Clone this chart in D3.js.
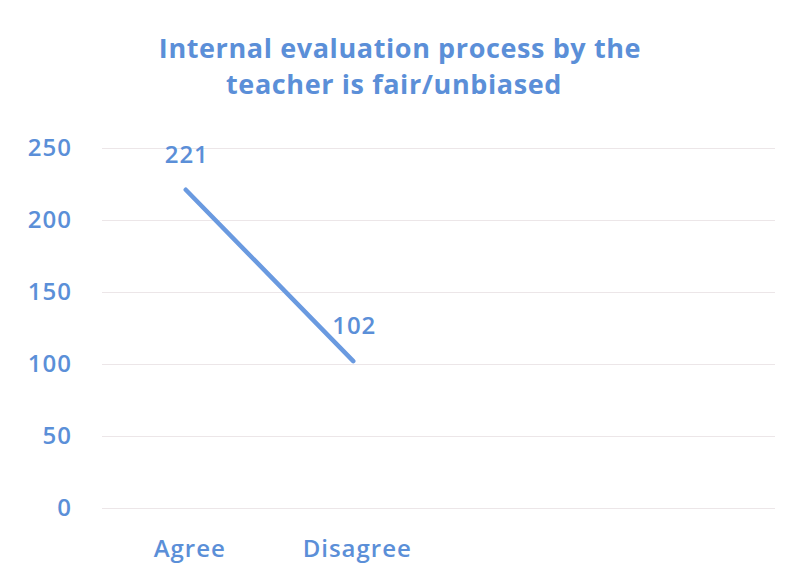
<!DOCTYPE html>
<html>
<head>
<meta charset="utf-8">
<script src="https://cdn.jsdelivr.net/npm/d3@7"></script>
<style>
  html, body { margin: 0; padding: 0; background: #ffffff; }
  svg { display: block; }
</style>
</head>
<body>
<svg id="chart" width="791" height="579"></svg>
<script>
const titleLines = ["Internal evaluation process by the", "teacher is fair/unbiased"];
const categories = ["Agree", "Disagree"];
const slotCount = 4; // chart reserves four category slots, two are used
const values = [221, 102];
const yTicks = [0, 50, 100, 150, 200, 250];

const W = 791, H = 579;
const margin = { left: 102, right: 11, top: 148, bottom: 71 };
const blue = "#5b8fd8";
const font = "'Open Sans', Lato, 'DejaVu Sans', sans-serif";

const svg = d3.select("#chart");
svg.append("rect").attr("width", W).attr("height", H).attr("fill", "#fff");

const x = d3.scaleBand()
  .domain(d3.range(slotCount))
  .range([margin.left, W - margin.right - 8])
  .paddingInner(0).paddingOuter(0);
const y = d3.scaleLinear().domain([0, 250]).range([H - margin.bottom, margin.top]);

// title
svg.append("g").selectAll("text").data(titleLines).join("text")
  .attr("x", (d, i) => i === 0 ? 400 : 394).attr("y", (d, i) => 58 + i * 36)
  .attr("text-anchor", "middle")
  .attr("font-family", font).attr("font-weight", 700).attr("font-size", 27)
  .attr("letter-spacing", 0.6)
  .attr("fill", blue)
  .text(d => d);

// gridlines
const grid = d3.axisLeft(y).tickValues(yTicks).tickSize(-(x.range()[1] - x.range()[0] + 3)).tickFormat("");
svg.append("g").attr("transform", `translate(${margin.left},0)`).call(grid)
  .call(g => g.select(".domain").remove())
  .call(g => g.selectAll("line").attr("stroke", "#ece6e8").attr("stroke-width", 1.2));

// y axis labels
const yAxis = d3.axisLeft(y).tickValues(yTicks).tickSize(0).tickPadding(30);
svg.append("g").attr("transform", `translate(${margin.left},0)`).call(yAxis)
  .call(g => g.select(".domain").remove())
  .call(g => g.selectAll("text")
    .attr("font-family", font).attr("font-size", 24).attr("font-weight", 600)
    .attr("letter-spacing", 1)
    .attr("fill", blue));

// x axis labels
const xAxis = d3.axisBottom(x).tickSize(0).tickPadding(32)
  .tickFormat(i => categories[i] || "");
svg.append("g").attr("transform", `translate(0,${y(0)})`).call(xAxis)
  .call(g => g.select(".domain").remove())
  .call(g => g.selectAll("text")
    .attr("dx", 4)
    .attr("font-family", font).attr("font-size", 24).attr("font-weight", 600)
    .attr("letter-spacing", 1)
    .attr("fill", blue));

// line
const pts = values.map((v, i) => ({ i, v }));
const line = d3.line().x(d => x(d.i) + x.bandwidth() / 2).y(d => y(d.v));
svg.append("path").datum(pts)
  .attr("d", line)
  .attr("fill", "none").attr("stroke", "#6a9ae0")
  .attr("stroke-width", 4.5).attr("stroke-linecap", "round");

// data labels
svg.append("g").selectAll("text").data(pts).join("text")
  .attr("x", d => x(d.i) + x.bandwidth() / 2 + 1)
  .attr("y", d => y(d.v) - 27)
  .attr("text-anchor", "middle")
  .attr("font-family", font).attr("font-size", 24).attr("font-weight", 600)
  .attr("letter-spacing", 1)
  .attr("fill", blue)
  .text(d => d.v);
</script>
</body>
</html>
